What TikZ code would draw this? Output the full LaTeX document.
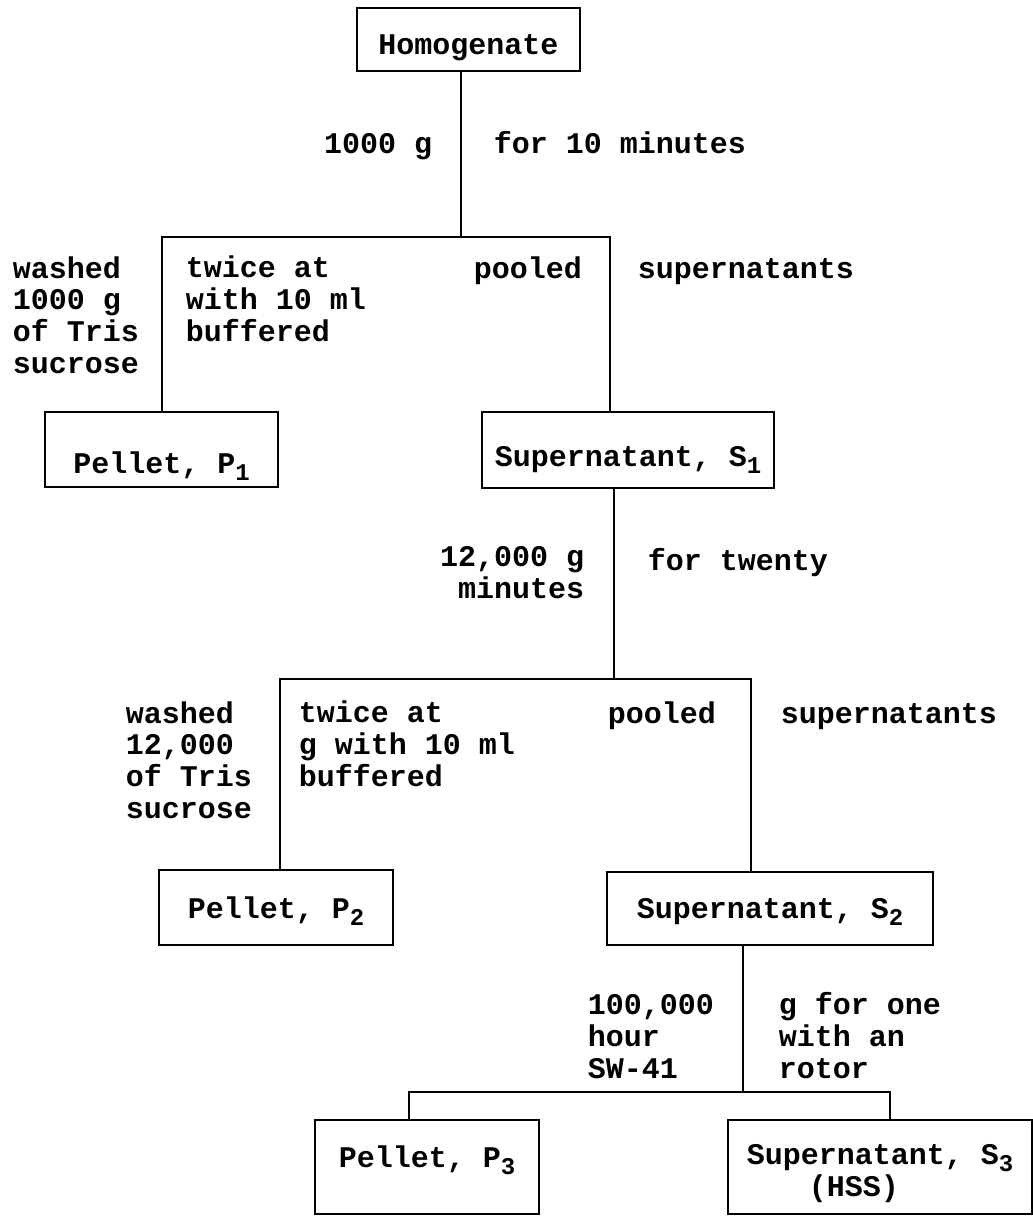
\documentclass[tikz,border=0pt]{standalone}
\usepackage{fontspec}
\setmainfont{Liberation Mono}
\newcommand{\lowsub}[1]{\raisebox{-3.5pt}{\fontsize{12}{12}\selectfont #1}}

\begin{document}
\begin{tikzpicture}[x=0.5pt,y=-0.5pt,line width=0.85pt,
  every node/.style={font=\bfseries\fontsize{15}{15.8}\selectfont},
  tube/.style={draw,inner sep=0pt,align=center},
  sink/.style={text depth=4pt,text height=#1},
  note/.style={inner sep=0pt,align=left,anchor=base west}]
\useasboundingbox (0,0) rectangle (1033,1216);

\node[tube,sink=18.5pt,minimum width=111.5pt,minimum height=31.5pt] (homog) at (468.5,39.5) {Homogenate};
\node[tube,sink=27.5pt,minimum width=116.5pt,minimum height=37.5pt] (p1) at (161.5,449.5) {Pellet, P\lowsub{1}};
\node[tube,sink=20pt,minimum width=146pt,minimum height=38pt] (s1) at (628,450) {Supernatant, S\lowsub{1}};
\node[tube,sink=14.5pt,minimum width=117pt,minimum height=37.5pt] (p2) at (276,907.5) {Pellet, P\lowsub{2}};
\node[tube,sink=13.5pt,minimum width=163pt,minimum height=36.5pt] (s2) at (770,908.5) {Supernatant, S\lowsub{2}};
\node[tube,sink=4pt,minimum width=112pt,minimum height=47pt] (p3) at (427,1167) {Pellet, P\lowsub{3}};
\node[tube,sink=33pt,align=left,minimum width=152pt,minimum height=47pt] (s3) at (880,1167) {Supernatant, S\lowsub{3}\\\hspace*{31pt}(HSS)};

\coordinate (fork1) at (461,237);
\coordinate (fork1l) at (162,237);
\coordinate (fork1r) at (610,237);
\draw (homog.south -| fork1) -- (fork1);
\draw (p1.north -| fork1l) |- (fork1r) -- (fork1r |- s1.north);

\coordinate (fork2) at (614,679);
\coordinate (fork2l) at (280,679);
\coordinate (fork2r) at (751,679);
\draw (s1.south -| fork2) -- (fork2);
\draw (p2.north -| fork2l) |- (fork2r) -- (fork2r |- s2.north);

\coordinate (fork3) at (743,1092);
\coordinate (fork3l) at (409,1092);
\coordinate (fork3r) at (890,1092);
\draw (s2.south -| fork3) -- (fork3);
\draw (p3.north -| fork3l) |- (fork3r) -- (fork3r |- s3.north);

\node[note,anchor=base east] (g1) at (433,153) {1000 g};
\node[note] (t1) at (493,153) {for 10 minutes};
\node[note] (w1) at (12,373) {washed\\1000 g\\of Tris\\sucrose};
\node[note] (x1) at (185,341) {twice at\\with 10 ml\\buffered};
\node[note] (pool1) at (473,278) {pooled};
\node[note] (sup1) at (637,278) {supernatants};

\node[note,anchor=base east,align=right] (g2) at (585,598) {12,000 g\\minutes};
\node[note] (t2) at (647,570) {for twenty};
\node[note] (w2) at (125,818) {washed\\12,000\\of Tris\\sucrose};
\node[note] (x2) at (298,786) {twice at\\g with 10 ml\\buffered};
\node[note] (pool2) at (607,723) {pooled};
\node[note] (sup2) at (780,723) {supernatants};

\node[note] (g3) at (587,1078) {100,000\\hour\\SW-41};
\node[note] (t3) at (778,1078) {g for one\\with an\\rotor};
\end{tikzpicture}
\end{document}
